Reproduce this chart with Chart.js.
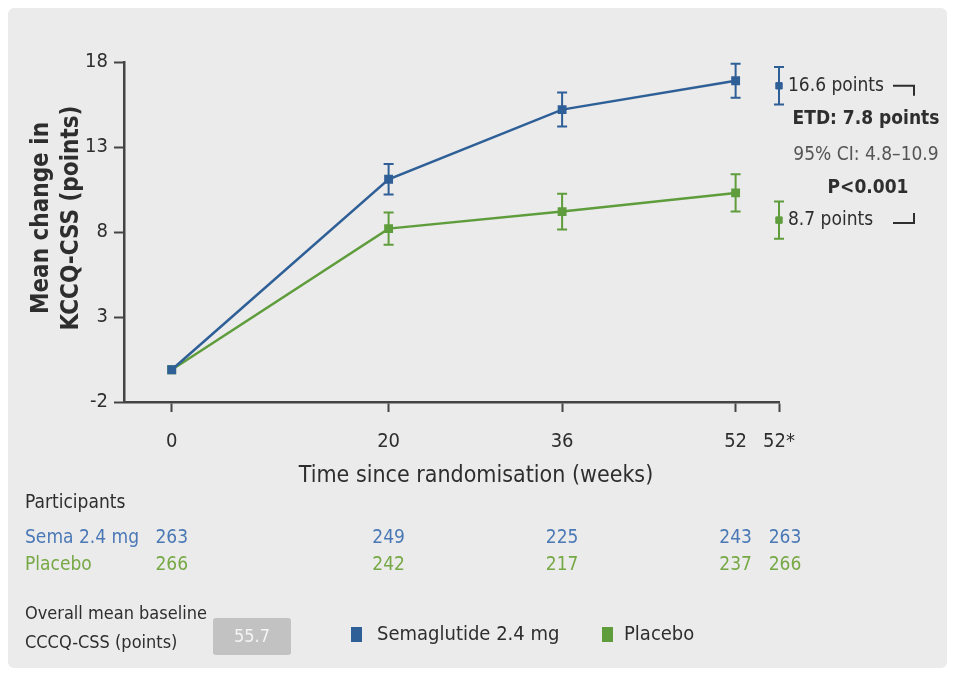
<!DOCTYPE html>
<html>
<head>
<meta charset="utf-8">
<script src="https://cdn.jsdelivr.net/npm/chart.js@4.4.1/dist/chart.umd.min.js"></script>
<style>
  html, body { margin: 0; padding: 0; background: #fff; }
  #wrap { position: relative; width: 955px; height: 676px; }
</style>
</head>
<body>
<div id="wrap"><canvas id="chart" width="955" height="676"></canvas></div>
<script>
// data
const weeks = [0, 20, 36, 52];
const semaMean = [-0.1, 11.1, 15.2, 16.9];
const semaErr = [0, 0.9, 1.0, 1.0];
const placeboMean = [-0.1, 8.2, 9.2, 10.3];
const placeboErr = [0, 0.95, 1.05, 1.1];

// treatment-policy estimate at week 52 (plotted at slot "52*")
const estX = 56;
const semaEst = 16.6;
const semaEstErr = 1.1;
const placeboEst = 8.7;
const placeboEstErr = 1.1;

const xTicks = [0, 20, 36, 52, 56];
const xTickLabels = ["0", "20", "36", "52", "52*"];
const yTicks = [-2, 3, 8, 13, 18];

const semaN = [263, 249, 225, 243, 263];
const placeboN = [266, 242, 217, 237, 266];
const baseline = "55.7";

const BLUE = "#2f5f97";
const GREEN = "#5f9d3c";
const BLUE_TXT = "#4a79b6";
const GREEN_TXT = "#76a845";
const DARK = "#2e2e2e";
const FONT = "'Liberation Sans Narrow', 'DejaVu Sans Condensed', 'Roboto', sans-serif";

const errorBars = {
  id: "errorBars",
  beforeDatasetsDraw(chart) {
    const { ctx, scales: { x, y } } = chart;
    chart.data.datasets.forEach((ds) => {
      if (!ds.err) return;
      ctx.save();
      ctx.strokeStyle = ds.borderColor;
      ctx.lineWidth = 2;
      ds.data.forEach((p, i) => {
        const e = ds.err[i];
        if (!e) return;
        const px = x.getPixelForValue(p.x);
        const top = y.getPixelForValue(p.y + e);
        const bot = y.getPixelForValue(p.y - e);
        ctx.beginPath();
        ctx.moveTo(px, top); ctx.lineTo(px, bot);
        ctx.moveTo(px - 5, top); ctx.lineTo(px + 5, top);
        ctx.moveTo(px - 5, bot); ctx.lineTo(px + 5, bot);
        ctx.stroke();
      });
      ctx.restore();
    });
  }
};

const decor = {
  id: "decor",
  beforeDraw(chart) {
    const ctx = chart.ctx;
    ctx.save();
    ctx.fillStyle = "#ebebeb";
    ctx.beginPath();
    ctx.roundRect(8, 8, 939, 660, 6);
    ctx.fill();
    ctx.restore();
  },
  afterDraw(chart) {
    const { ctx, scales: { x, y } } = chart;
    ctx.save();
    ctx.fillStyle = DARK;
    ctx.textBaseline = "middle";

    // y title
    ctx.save();
    ctx.translate(0, 218);
    ctx.rotate(-Math.PI / 2);
    ctx.textAlign = "center";
    ctx.font = "bold 24px " + FONT;
    ctx.fillText("Mean change in", 0, 42);
    ctx.fillText("KCCQ-CSS (points)", 0, 72);
    ctx.restore();

    // x title
    ctx.textAlign = "center";
    ctx.font = "23px " + FONT;
    ctx.fillText("Time since randomisation (weeks)", 476, 476);

    // right side annotation
    const yS = y.getPixelForValue(semaEst);
    const yP = y.getPixelForValue(placeboEst);
    ctx.textAlign = "left";
    ctx.font = "19px " + FONT;
    ctx.fillText("16.6 points", 788, yS);
    ctx.fillText("8.7 points", 788, yP);
    ctx.strokeStyle = DARK;
    ctx.lineWidth = 2;
    ctx.beginPath();
    ctx.moveTo(893, yS); ctx.lineTo(914, yS); ctx.lineTo(914, yS + 10);
    ctx.moveTo(893, yP + 3); ctx.lineTo(914, yP + 3); ctx.lineTo(914, yP - 7);
    ctx.stroke();
    ctx.textAlign = "center";
    ctx.font = "bold 19px " + FONT;
    ctx.fillText("ETD: 7.8 points", 866, 119);
    ctx.font = "19px " + FONT;
    ctx.fillStyle = "#555";
    ctx.fillText("95% CI: 4.8\u201310.9", 866, 155);
    ctx.fillStyle = DARK;
    ctx.font = "bold 19px " + FONT;
    ctx.fillText("P<0.001", 868, 188);

    // participants table
    ctx.textAlign = "left";
    ctx.font = "19px " + FONT;
    ctx.fillText("Participants", 25, 503);
    ctx.fillStyle = BLUE_TXT;
    ctx.fillText("Sema 2.4 mg", 25, 538);
    ctx.fillStyle = GREEN_TXT;
    ctx.fillText("Placebo", 25, 565);
    ctx.textAlign = "center";
    xTicks.forEach((v, i) => {
      const px = x.getPixelForValue(v) + (i === 4 ? 6 : 0);
      ctx.fillStyle = BLUE_TXT;
      ctx.fillText(String(semaN[i]), px, 538);
      ctx.fillStyle = GREEN_TXT;
      ctx.fillText(String(placeboN[i]), px, 565);
    });

    // baseline box
    ctx.fillStyle = DARK;
    ctx.textAlign = "left";
    ctx.font = "18px " + FONT;
    ctx.fillText("Overall mean baseline", 25, 614);
    ctx.fillText("CCCQ-CSS (points)", 25, 643);
    ctx.fillStyle = "#c2c2c2";
    ctx.beginPath();
    ctx.roundRect(213, 618, 78, 37, 3);
    ctx.fill();
    ctx.fillStyle = "#f4f4f4";
    ctx.textAlign = "center";
    ctx.font = "18px " + FONT;
    ctx.fillText(baseline, 252, 637);

    // legend
    ctx.textAlign = "left";
    ctx.font = "20px " + FONT;
    ctx.fillStyle = BLUE;
    ctx.fillRect(351, 627, 11, 15);
    ctx.fillStyle = DARK;
    ctx.fillText("Semaglutide 2.4 mg", 377, 635);
    ctx.fillStyle = GREEN;
    ctx.fillRect(602, 627, 11, 15);
    ctx.fillStyle = DARK;
    ctx.fillText("Placebo", 624, 635);
    ctx.restore();
  }
};

const pts = (xs, ys) => xs.map((v, i) => ({ x: v, y: ys[i] }));

new Chart(document.getElementById("chart"), {
  type: "line",
  data: {
    datasets: [
      {
        label: "Semaglutide 2.4 mg",
        data: pts(weeks, semaMean),
        err: semaErr,
        borderColor: BLUE,
        backgroundColor: BLUE,
        borderWidth: 2.5,
        tension: 0,
        pointStyle: "rect",
        pointRadius: 4.5,
        order: 1
      },
      {
        label: "Placebo",
        data: pts(weeks, placeboMean),
        err: placeboErr,
        borderColor: GREEN,
        backgroundColor: GREEN,
        borderWidth: 2.5,
        tension: 0,
        pointStyle: "rect",
        pointRadius: 4.5,
        order: 2
      },
      {
        label: "Sema estimate",
        data: [{ x: estX, y: semaEst }],
        err: [semaEstErr],
        borderColor: BLUE,
        backgroundColor: BLUE,
        showLine: false,
        clip: false,
        pointStyle: "rect",
        pointRadius: 4.5
      },
      {
        label: "Placebo estimate",
        data: [{ x: estX, y: placeboEst }],
        err: [placeboEstErr],
        borderColor: GREEN,
        backgroundColor: GREEN,
        showLine: false,
        clip: false,
        pointStyle: "rect",
        pointRadius: 4.5
      }
    ]
  },
  options: {
    responsive: false,
    animation: false,
    layout: { padding: { top: 62, right: 176, left: 0, bottom: 0 } },
    plugins: { legend: { display: false }, tooltip: { enabled: false } },
    scales: {
      x: {
        type: "linear",
        min: -4.4,
        max: 56,
        afterFit: (s) => { s.height = 274; },
        afterBuildTicks: (s) => { s.ticks = xTicks.map((v) => ({ value: v })); },
        ticks: {
          autoSkip: false,
          maxRotation: 0,
          padding: 18,
          color: DARK,
          font: { family: FONT, size: 20 },
          callback: (v) => xTickLabels[xTicks.indexOf(v)]
        },
        grid: { drawOnChartArea: false, drawTicks: true, tickLength: 10, tickColor: "#444", tickWidth: 2 },
        border: { color: "#444", width: 2.5 }
      },
      y: {
        min: -2,
        max: 18,
        afterFit: (s) => { s.width = 124; },
        afterBuildTicks: (s) => { s.ticks = yTicks.map((v) => ({ value: v })); },
        ticks: {
          padding: 6,
          color: DARK,
          font: { family: FONT, size: 20 }
        },
        grid: { drawOnChartArea: false, drawTicks: true, tickLength: 10, tickColor: "#444", tickWidth: 2 },
        border: { color: "#444", width: 2.5 }
      }
    }
  },
  plugins: [errorBars, decor]
});
</script>
</body>
</html>
